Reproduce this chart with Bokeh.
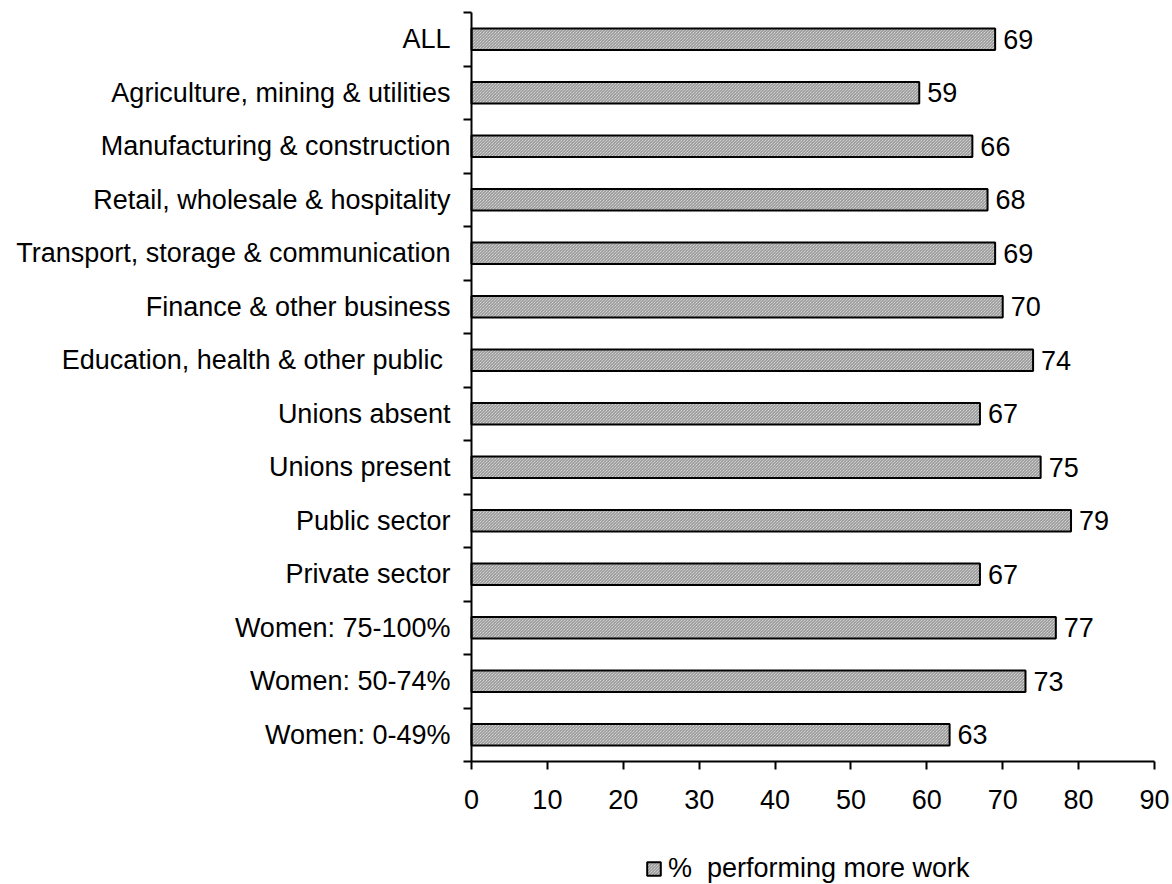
from bokeh.plotting import figure
from bokeh.models import Range1d, FixedTicker, ColumnDataSource, Legend, LegendItem
from bokeh.core.properties import value
from bokeh.embed import file_html
from bokeh.resources import INLINE

categories = [
    "ALL",
    "Agriculture, mining & utilities",
    "Manufacturing & construction",
    "Retail, wholesale & hospitality",
    "Transport, storage & communication",
    "Finance & other business",
    "Education, health & other public ",
    "Unions absent",
    "Unions present",
    "Public sector",
    "Private sector",
    "Women: 75-100%",
    "Women: 50-74%",
    "Women: 0-49%",
]
values = [69, 59, 66, 68, 69, 70, 74, 67, 75, 79, 67, 77, 73, 63]
x_ticks = [0, 10, 20, 30, 40, 50, 60, 70, 80, 90]
series_name = "%  performing more work"

FONT = "Liberation Sans"

n = len(categories)
ypos = list(range(n))
src = ColumnDataSource(dict(y=ypos, v=values, lab=[str(v) for v in values]))

# pixel layout of the canvas (1172 x 884): axes box from x=471..1154, y=12..761
W, H = 1172, 884
left_px, right_px, top_px, bottom_px = 471.0, 1154.0, 12.0, 761.0
x_lo, x_hi = x_ticks[0], x_ticks[-1]
px_per_x = (right_px - left_px) / (x_hi - x_lo)
px_per_y = (bottom_px - top_px) / n
x_start = x_lo - left_px / px_per_x
x_end = x_hi + (W - right_px) / px_per_x
y_top = -0.5 - top_px / px_per_y
y_bot = (n - 0.5) + (H - bottom_px) / px_per_y

p = figure(
    frame_width=W, frame_height=H,
    x_range=Range1d(x_start, x_end), y_range=Range1d(y_bot, y_top),
    output_backend="svg", toolbar_location=None,
    min_border=0,
)
p.outline_line_color = None
p.xgrid.visible = False
p.ygrid.visible = False
p.background_fill_color = "white"
p.border_fill_color = "white"

bars = p.hbar(
    y="y", right="v", left=0, height=0.4, source=src,
    fill_color="#efefef", line_color="black", line_width=2,
    hatch_pattern="\\", hatch_scale=3, hatch_color="#858585", hatch_weight=1,
)

p.text(
    x="v", y="y", text="lab", source=src, x_offset=8,
    text_baseline="middle", text_align="left",
    text_font=value(FONT), text_font_size="27px", text_color="black",
)

# x axis, fixed at the bottom edge of the category area
xa = p.xaxis[0]
xa.fixed_location = n - 0.5
xa.bounds = (x_lo, x_hi)
xa.ticker = FixedTicker(ticks=x_ticks, minor_ticks=[])
xa.axis_line_width = 2
xa.axis_line_color = "black"
xa.major_tick_line_width = 2
xa.major_tick_out = 8
xa.major_tick_in = 0
xa.minor_tick_out = 0
xa.minor_tick_in = 0
xa.major_label_standoff = 20
xa.major_label_text_font = FONT
xa.major_label_text_font_size = "27px"
xa.major_label_text_color = "black"

# y axis, fixed at x = 0
ya = p.yaxis[0]
ya.fixed_location = 0
ya.bounds = (-0.5, n - 0.5)
ya.ticker = FixedTicker(ticks=ypos, minor_ticks=[i - 0.5 for i in range(n + 1)])
ya.major_label_overrides = {i: c for i, c in zip(ypos, categories)}
ya.axis_line_width = 2
ya.axis_line_color = "black"
ya.major_tick_out = 0
ya.major_tick_in = 0
ya.minor_tick_out = 8
ya.minor_tick_in = 0
ya.minor_tick_line_width = 2
ya.minor_tick_line_color = "black"
ya.major_label_standoff = 13
ya.major_label_text_font = FONT
ya.major_label_text_font_size = "27px"
ya.major_label_text_color = "black"

legend = Legend(
    items=[LegendItem(label=series_name, renderers=[bars])],
    location=(645, 0),
    label_text_font=FONT, label_text_font_size="27px", label_text_color="black",
    glyph_width=17, glyph_height=17, label_standoff=6,
    padding=0, margin=0, border_line_color=None, background_fill_alpha=0,
)
p.add_layout(legend)

open("out.html", "w").write(file_html(p, INLINE))
